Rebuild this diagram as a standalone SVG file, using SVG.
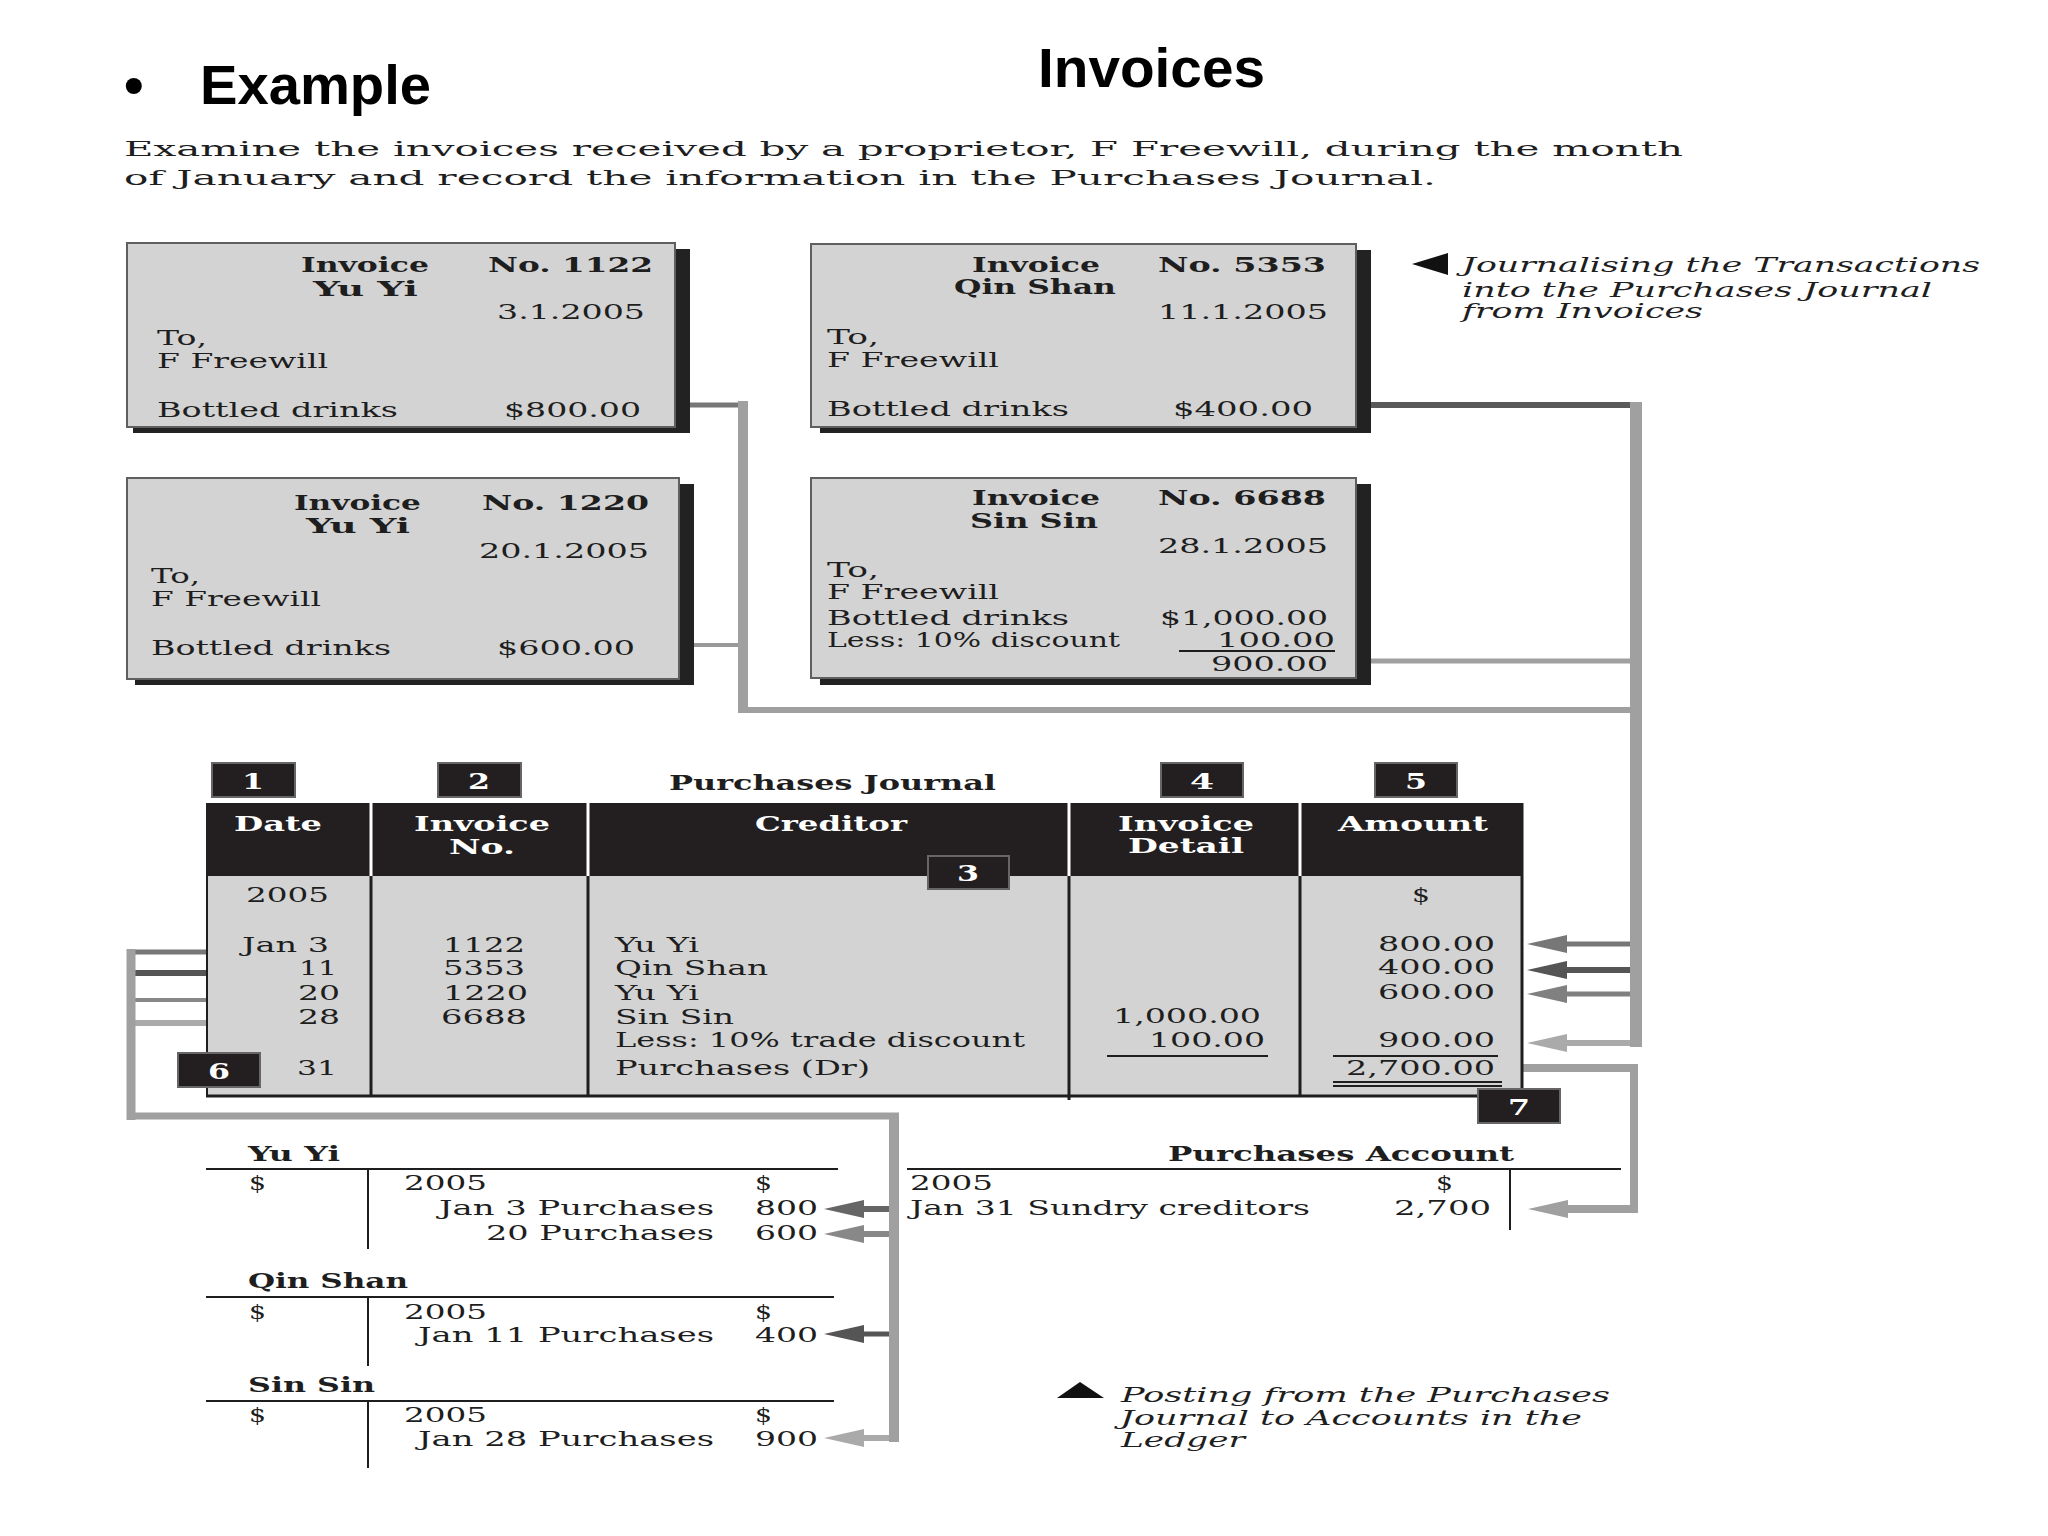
<svg xmlns="http://www.w3.org/2000/svg" xmlns:xlink="http://www.w3.org/1999/xlink" width="2048" height="1536" viewBox="0 0 2048 1536">
<defs>
<style>
.s{font-family:"DejaVu Serif","Liberation Serif",serif;fill:#1e1e1e;font-size:21px}
.b{font-weight:bold}
.i{font-style:italic;font-family:"DejaVu Serif","Liberation Serif",serif}
.w{fill:#ffffff}
.t{font-family:"Liberation Sans",Arial,sans-serif;font-weight:bold;fill:#000}
.box{fill:#d3d3d3;stroke:#5f5f5f;stroke-width:2}
.sh{fill:#222222}
.nb{fill:#231f20;stroke:#666;stroke-width:2}
.nt{font-size:22px}
.ln{stroke:#1e1e1e;stroke-width:2;fill:none}
.c{fill:none;stroke-linecap:butt}
</style>
<path id="ahL" d="M0,0 L40,-9 L40,9 Z"/>
</defs>
<rect x="0" y="0" width="2048" height="1536" fill="#ffffff"/>

<g id="title">
<text class="t" x="124" y="104" font-size="56">•</text>
<text class="t" x="200" y="104" font-size="55" textLength="231" lengthAdjust="spacingAndGlyphs">Example</text>
<text class="t" x="1038" y="87" font-size="55" textLength="227" lengthAdjust="spacingAndGlyphs">Invoices</text>
<text class="s" x="124" y="156" font-size="22" textLength="1559" lengthAdjust="spacingAndGlyphs">Examine the invoices received by a proprietor, F Freewill, during the month</text>
<text class="s" x="124" y="185" font-size="22" textLength="1312" lengthAdjust="spacingAndGlyphs">of January and record the information in the Purchases Journal.</text>
</g>

<g id="connectors">
<line class="c" x1="690" y1="405" x2="743" y2="405" stroke="#777" stroke-width="5"/>
<line class="c" x1="693" y1="645" x2="743" y2="645" stroke="#999" stroke-width="4"/>
<line class="c" x1="743" y1="401" x2="743" y2="713" stroke="#a0a0a0" stroke-width="10"/>
<line class="c" x1="738" y1="710" x2="1636" y2="710" stroke="#a0a0a0" stroke-width="6"/>
<line class="c" x1="1371" y1="405" x2="1636" y2="405" stroke="#5a5a5a" stroke-width="6"/>
<line class="c" x1="1371" y1="661" x2="1636" y2="661" stroke="#a0a0a0" stroke-width="5"/>
<line class="c" x1="1636" y1="402" x2="1636" y2="1047" stroke="#a0a0a0" stroke-width="12"/>
<line class="c" x1="1630" y1="944" x2="1560" y2="944" stroke="#777" stroke-width="5"/>
<line class="c" x1="1630" y1="970" x2="1560" y2="970" stroke="#555" stroke-width="6"/>
<line class="c" x1="1630" y1="994" x2="1560" y2="994" stroke="#808080" stroke-width="5"/>
<line class="c" x1="1630" y1="1043" x2="1560" y2="1043" stroke="#aaa" stroke-width="6"/>
<use xlink:href="#ahL" transform="translate(1527,944)" fill="#777"/>
<use xlink:href="#ahL" transform="translate(1527,970)" fill="#555"/>
<use xlink:href="#ahL" transform="translate(1527,994)" fill="#808080"/>
<use xlink:href="#ahL" transform="translate(1527,1043)" fill="#aaa"/>
<polyline class="c" points="1522,1068 1634,1068 1634,1209 1560,1209" stroke="#a0a0a0" stroke-width="8"/>
<use xlink:href="#ahL" transform="translate(1528,1209)" fill="#a0a0a0"/>
<line class="c" x1="206" y1="952" x2="131" y2="952" stroke="#777" stroke-width="5"/>
<line class="c" x1="206" y1="973" x2="131" y2="973" stroke="#555" stroke-width="6"/>
<line class="c" x1="206" y1="1000" x2="131" y2="1000" stroke="#888" stroke-width="4"/>
<line class="c" x1="206" y1="1023" x2="131" y2="1023" stroke="#aaa" stroke-width="6"/>
<line class="c" x1="131" y1="949" x2="131" y2="1120" stroke="#a0a0a0" stroke-width="9"/>
<line class="c" x1="127" y1="1116" x2="899" y2="1116" stroke="#a0a0a0" stroke-width="7"/>
<line class="c" x1="894" y1="1113" x2="894" y2="1442" stroke="#a0a0a0" stroke-width="10"/>
<line class="c" x1="889" y1="1209" x2="855" y2="1209" stroke="#666" stroke-width="6"/>
<line class="c" x1="889" y1="1234" x2="855" y2="1234" stroke="#888" stroke-width="6"/>
<line class="c" x1="889" y1="1334" x2="855" y2="1334" stroke="#555" stroke-width="5"/>
<line class="c" x1="889" y1="1438" x2="855" y2="1438" stroke="#aaa" stroke-width="6"/>
<use xlink:href="#ahL" transform="translate(824,1209)" fill="#666"/>
<use xlink:href="#ahL" transform="translate(824,1234)" fill="#888"/>
<use xlink:href="#ahL" transform="translate(824,1334)" fill="#555"/>
<use xlink:href="#ahL" transform="translate(824,1438)" fill="#aaa"/>
</g>

<g id="inv1122">
<rect class="sh" x="133" y="249" width="557" height="184"/>
<rect class="box" x="127" y="243" width="548" height="184"/>
<text class="s b" x="301" y="272" font-size="20" textLength="128" lengthAdjust="spacingAndGlyphs">Invoice</text>
<text class="s b" x="488" y="272" font-size="20" textLength="165" lengthAdjust="spacingAndGlyphs">No. 1122</text>
<text class="s b" x="313" y="296" font-size="20" textLength="105" lengthAdjust="spacingAndGlyphs">Yu Yi</text>
<text class="s" x="497" y="319" textLength="148" lengthAdjust="spacingAndGlyphs">3.1.2005</text>
<text class="s" x="157" y="345" textLength="50" lengthAdjust="spacingAndGlyphs">To,</text>
<text class="s" x="157" y="368" textLength="171" lengthAdjust="spacingAndGlyphs">F Freewill</text>
<text class="s" x="157" y="417" textLength="241" lengthAdjust="spacingAndGlyphs">Bottled drinks</text>
<text class="s" x="504" y="417" textLength="137" lengthAdjust="spacingAndGlyphs">$800.00</text>
</g>

<g id="inv1220">
<rect class="sh" x="135" y="484" width="559" height="201"/>
<rect class="box" x="127" y="478" width="552" height="201"/>
<text class="s b" x="294" y="510" font-size="20" textLength="127" lengthAdjust="spacingAndGlyphs">Invoice</text>
<text class="s b" x="482" y="510" font-size="20" textLength="167" lengthAdjust="spacingAndGlyphs">No. 1220</text>
<text class="s b" x="306" y="533" font-size="20" textLength="104" lengthAdjust="spacingAndGlyphs">Yu Yi</text>
<text class="s" x="479" y="558" textLength="170" lengthAdjust="spacingAndGlyphs">20.1.2005</text>
<text class="s" x="151" y="583" textLength="49" lengthAdjust="spacingAndGlyphs">To,</text>
<text class="s" x="151" y="606" textLength="170" lengthAdjust="spacingAndGlyphs">F Freewill</text>
<text class="s" x="151" y="655" textLength="240" lengthAdjust="spacingAndGlyphs">Bottled drinks</text>
<text class="s" x="497" y="655" textLength="138" lengthAdjust="spacingAndGlyphs">$600.00</text>
</g>

<g id="inv5353">
<rect class="sh" x="820" y="250" width="551" height="183"/>
<rect class="box" x="811" y="244" width="545" height="183"/>
<text class="s b" x="972" y="272" font-size="20" textLength="128" lengthAdjust="spacingAndGlyphs">Invoice</text>
<text class="s b" x="1158" y="272" font-size="20" textLength="168" lengthAdjust="spacingAndGlyphs">No. 5353</text>
<text class="s b" x="954" y="294" font-size="20" textLength="162" lengthAdjust="spacingAndGlyphs">Qin Shan</text>
<text class="s" x="1158" y="319" textLength="170" lengthAdjust="spacingAndGlyphs">11.1.2005</text>
<text class="s" x="827" y="344" textLength="52" lengthAdjust="spacingAndGlyphs">To,</text>
<text class="s" x="827" y="367" textLength="172" lengthAdjust="spacingAndGlyphs">F Freewill</text>
<text class="s" x="827" y="416" textLength="242" lengthAdjust="spacingAndGlyphs">Bottled drinks</text>
<text class="s" x="1173" y="416" textLength="140" lengthAdjust="spacingAndGlyphs">$400.00</text>
</g>

<g id="inv6688">
<rect class="sh" x="820" y="484" width="551" height="201"/>
<rect class="box" x="811" y="478" width="545" height="200"/>
<text class="s b" x="972" y="505" font-size="20" textLength="128" lengthAdjust="spacingAndGlyphs">Invoice</text>
<text class="s b" x="1158" y="505" font-size="20" textLength="168" lengthAdjust="spacingAndGlyphs">No. 6688</text>
<text class="s b" x="970" y="528" font-size="20" textLength="128" lengthAdjust="spacingAndGlyphs">Sin Sin</text>
<text class="s" x="1158" y="553" textLength="170" lengthAdjust="spacingAndGlyphs">28.1.2005</text>
<text class="s" x="827" y="577" textLength="52" lengthAdjust="spacingAndGlyphs">To,</text>
<text class="s" x="827" y="599" textLength="172" lengthAdjust="spacingAndGlyphs">F Freewill</text>
<text class="s" x="827" y="625" textLength="242" lengthAdjust="spacingAndGlyphs">Bottled drinks</text>
<text class="s" x="1160" y="625" textLength="168" lengthAdjust="spacingAndGlyphs">$1,000.00</text>
<text class="s" x="827" y="647" textLength="293" lengthAdjust="spacingAndGlyphs">Less: 10% discount</text>
<text class="s" x="1217" y="647" textLength="118" lengthAdjust="spacingAndGlyphs">100.00</text>
<line class="ln" x1="1179" y1="651" x2="1335" y2="651"/>
<text class="s" x="1211" y="671" textLength="117" lengthAdjust="spacingAndGlyphs">900.00</text>
</g>

<g id="note-journalising">
<polygon points="1412,264 1448,253 1448,275" fill="#111"/>
<text class="s i" x="1462" y="272" textLength="518" lengthAdjust="spacingAndGlyphs">Journalising the Transactions</text>
<text class="s i" x="1462" y="297" textLength="470" lengthAdjust="spacingAndGlyphs">into the Purchases Journal</text>
<text class="s i" x="1462" y="318" textLength="241" lengthAdjust="spacingAndGlyphs">from Invoices</text>
</g>

<g id="purchases-journal">
<text class="s b" x="669" y="790" font-size="19" textLength="327" lengthAdjust="spacingAndGlyphs">Purchases Journal</text>
<rect x="206" y="803" width="1316" height="73" fill="#231f20"/>
<rect x="206" y="876" width="1316" height="220" fill="#d3d3d3"/>
<g stroke="#ffffff" stroke-width="3">
<line x1="371" y1="803" x2="371" y2="876"/>
<line x1="588" y1="803" x2="588" y2="876"/>
<line x1="1069" y1="803" x2="1069" y2="876"/>
<line x1="1300" y1="803" x2="1300" y2="876"/>
</g>
<g stroke="#1e1e1e" stroke-width="3">
<line x1="371" y1="876" x2="371" y2="1096"/>
<line x1="588" y1="876" x2="588" y2="1096"/>
<line x1="1069" y1="876" x2="1069" y2="1100"/>
<line x1="1300" y1="876" x2="1300" y2="1096"/>
<line x1="1522" y1="803" x2="1522" y2="1097"/>
<line x1="206" y1="1096" x2="1523" y2="1096"/>
</g>
<line x1="207" y1="876" x2="207" y2="1096" stroke="#1e1e1e" stroke-width="2"/>
<text class="s b w" x="278" y="831" font-size="20" text-anchor="middle" textLength="88" lengthAdjust="spacingAndGlyphs">Date</text>
<text class="s b w" x="482" y="831" font-size="20" text-anchor="middle" textLength="136" lengthAdjust="spacingAndGlyphs">Invoice</text>
<text class="s b w" x="482" y="854" font-size="20" text-anchor="middle" textLength="66" lengthAdjust="spacingAndGlyphs">No.</text>
<text class="s b w" x="831" y="831" font-size="20" text-anchor="middle" textLength="152" lengthAdjust="spacingAndGlyphs">Creditor</text>
<text class="s b w" x="1186" y="831" font-size="20" text-anchor="middle" textLength="136" lengthAdjust="spacingAndGlyphs">Invoice</text>
<text class="s b w" x="1186" y="853" font-size="20" text-anchor="middle" textLength="116" lengthAdjust="spacingAndGlyphs">Detail</text>
<text class="s b w" x="1413" y="831" font-size="20" text-anchor="middle" textLength="150" lengthAdjust="spacingAndGlyphs">Amount</text>
<text class="s" x="246" y="902" textLength="83" lengthAdjust="spacingAndGlyphs">2005</text>
<text class="s" x="242" y="952" textLength="87" lengthAdjust="spacingAndGlyphs">Jan 3</text>
<text class="s" x="337" y="975" text-anchor="end" textLength="38" lengthAdjust="spacingAndGlyphs">11</text>
<text class="s" x="340" y="1000" text-anchor="end" textLength="42" lengthAdjust="spacingAndGlyphs">20</text>
<text class="s" x="340" y="1024" text-anchor="end" textLength="42" lengthAdjust="spacingAndGlyphs">28</text>
<text class="s" x="337" y="1075" text-anchor="end" textLength="40" lengthAdjust="spacingAndGlyphs">31</text>
<text class="s" x="443" y="952" textLength="82" lengthAdjust="spacingAndGlyphs">1122</text>
<text class="s" x="443" y="975" textLength="82" lengthAdjust="spacingAndGlyphs">5353</text>
<text class="s" x="443" y="1000" textLength="85" lengthAdjust="spacingAndGlyphs">1220</text>
<text class="s" x="441" y="1024" textLength="86" lengthAdjust="spacingAndGlyphs">6688</text>
<text class="s" x="615" y="952" textLength="84" lengthAdjust="spacingAndGlyphs">Yu Yi</text>
<text class="s" x="615" y="975" textLength="153" lengthAdjust="spacingAndGlyphs">Qin Shan</text>
<text class="s" x="615" y="1000" textLength="84" lengthAdjust="spacingAndGlyphs">Yu Yi</text>
<text class="s" x="615" y="1024" textLength="119" lengthAdjust="spacingAndGlyphs">Sin Sin</text>
<text class="s" x="615" y="1047" textLength="410" lengthAdjust="spacingAndGlyphs">Less: 10% trade discount</text>
<text class="s" x="615" y="1075" textLength="255" lengthAdjust="spacingAndGlyphs">Purchases (Dr)</text>
<text class="s" x="1113" y="1023" textLength="148" lengthAdjust="spacingAndGlyphs">1,000.00</text>
<text class="s" x="1149" y="1047" textLength="116" lengthAdjust="spacingAndGlyphs">100.00</text>
<line class="ln" x1="1107" y1="1056" x2="1268" y2="1056"/>
<text class="s" x="1412" y="902" textLength="18" lengthAdjust="spacingAndGlyphs">$</text>
<text class="s" x="1378" y="951" textLength="117" lengthAdjust="spacingAndGlyphs">800.00</text>
<text class="s" x="1378" y="974" textLength="117" lengthAdjust="spacingAndGlyphs">400.00</text>
<text class="s" x="1378" y="999" textLength="117" lengthAdjust="spacingAndGlyphs">600.00</text>
<text class="s" x="1378" y="1047" textLength="117" lengthAdjust="spacingAndGlyphs">900.00</text>
<line class="ln" x1="1333" y1="1056" x2="1498" y2="1056"/>
<text class="s" x="1346" y="1075" textLength="149" lengthAdjust="spacingAndGlyphs">2,700.00</text>
<line class="ln" x1="1333" y1="1082" x2="1502" y2="1082"/>
<line class="ln" x1="1333" y1="1086" x2="1502" y2="1086"/>
</g>

<g id="markers">
<g id="m1"><rect class="nb" x="212" y="763" width="83" height="34"/><text class="s b w nt" x="253" y="789" text-anchor="middle" textLength="22" lengthAdjust="spacingAndGlyphs">1</text></g>
<g id="m2"><rect class="nb" x="438" y="763" width="83" height="34"/><text class="s b w nt" x="479" y="789" text-anchor="middle" textLength="22" lengthAdjust="spacingAndGlyphs">2</text></g>
<g id="m3"><rect class="nb" x="928" y="856" width="81" height="33"/><text class="s b w nt" x="968" y="881" text-anchor="middle" textLength="22" lengthAdjust="spacingAndGlyphs">3</text></g>
<g id="m4"><rect class="nb" x="1161" y="763" width="82" height="34"/><text class="s b w nt" x="1202" y="789" text-anchor="middle" textLength="24" lengthAdjust="spacingAndGlyphs">4</text></g>
<g id="m5"><rect class="nb" x="1375" y="763" width="82" height="34"/><text class="s b w nt" x="1416" y="789" text-anchor="middle" textLength="22" lengthAdjust="spacingAndGlyphs">5</text></g>
<g id="m6"><rect class="nb" x="178" y="1053" width="82" height="34"/><text class="s b w nt" x="219" y="1079" text-anchor="middle" textLength="22" lengthAdjust="spacingAndGlyphs">6</text></g>
<g id="m7"><rect class="nb" x="1478" y="1089" width="82" height="34"/><text class="s b w nt" x="1519" y="1115" text-anchor="middle" textLength="22" lengthAdjust="spacingAndGlyphs">7</text></g>
</g>

<g id="ledger-yuyi">
<text class="s b" x="248" y="1161" font-size="19" textLength="92" lengthAdjust="spacingAndGlyphs">Yu Yi</text>
<line class="ln" x1="206" y1="1169" x2="838" y2="1169"/>
<line class="ln" x1="368" y1="1169" x2="368" y2="1249"/>
<text class="s" x="249" y="1190" font-size="20" textLength="17" lengthAdjust="spacingAndGlyphs">$</text>
<text class="s" x="404" y="1190" font-size="20" textLength="83" lengthAdjust="spacingAndGlyphs">2005</text>
<text class="s" x="755" y="1190" font-size="20" textLength="17" lengthAdjust="spacingAndGlyphs">$</text>
<text class="s" x="439" y="1215" font-size="20" textLength="275" lengthAdjust="spacingAndGlyphs">Jan 3 Purchases</text>
<text class="s" x="755" y="1215" font-size="20" textLength="63" lengthAdjust="spacingAndGlyphs">800</text>
<text class="s" x="486" y="1240" font-size="20" textLength="228" lengthAdjust="spacingAndGlyphs">20 Purchases</text>
<text class="s" x="755" y="1240" font-size="20" textLength="63" lengthAdjust="spacingAndGlyphs">600</text>
</g>

<g id="ledger-qinshan">
<text class="s b" x="248" y="1288" font-size="19" textLength="160" lengthAdjust="spacingAndGlyphs">Qin Shan</text>
<line class="ln" x1="206" y1="1297" x2="834" y2="1297"/>
<line class="ln" x1="368" y1="1297" x2="368" y2="1366"/>
<text class="s" x="249" y="1319" font-size="20" textLength="17" lengthAdjust="spacingAndGlyphs">$</text>
<text class="s" x="404" y="1319" font-size="20" textLength="83" lengthAdjust="spacingAndGlyphs">2005</text>
<text class="s" x="755" y="1319" font-size="20" textLength="17" lengthAdjust="spacingAndGlyphs">$</text>
<text class="s" x="418" y="1342" font-size="20" textLength="296" lengthAdjust="spacingAndGlyphs">Jan 11 Purchases</text>
<text class="s" x="755" y="1342" font-size="20" textLength="63" lengthAdjust="spacingAndGlyphs">400</text>
</g>

<g id="ledger-sinsin">
<text class="s b" x="248" y="1392" font-size="19" textLength="127" lengthAdjust="spacingAndGlyphs">Sin Sin</text>
<line class="ln" x1="206" y1="1401" x2="834" y2="1401"/>
<line class="ln" x1="368" y1="1401" x2="368" y2="1468"/>
<text class="s" x="249" y="1422" font-size="20" textLength="17" lengthAdjust="spacingAndGlyphs">$</text>
<text class="s" x="404" y="1422" font-size="20" textLength="83" lengthAdjust="spacingAndGlyphs">2005</text>
<text class="s" x="755" y="1422" font-size="20" textLength="17" lengthAdjust="spacingAndGlyphs">$</text>
<text class="s" x="418" y="1446" font-size="20" textLength="296" lengthAdjust="spacingAndGlyphs">Jan 28 Purchases</text>
<text class="s" x="755" y="1446" font-size="20" textLength="63" lengthAdjust="spacingAndGlyphs">900</text>
</g>

<g id="ledger-purchases">
<text class="s b" x="1168" y="1161" font-size="19" textLength="346" lengthAdjust="spacingAndGlyphs">Purchases Account</text>
<line class="ln" x1="907" y1="1169" x2="1621" y2="1169"/>
<line class="ln" x1="1510" y1="1169" x2="1510" y2="1230"/>
<text class="s" x="910" y="1190" font-size="20" textLength="83" lengthAdjust="spacingAndGlyphs">2005</text>
<text class="s" x="1436" y="1190" font-size="20" textLength="17" lengthAdjust="spacingAndGlyphs">$</text>
<text class="s" x="910" y="1215" font-size="20" textLength="400" lengthAdjust="spacingAndGlyphs">Jan 31 Sundry creditors</text>
<text class="s" x="1394" y="1215" font-size="20" textLength="97" lengthAdjust="spacingAndGlyphs">2,700</text>
</g>

<g id="note-posting">
<polygon points="1057,1398 1104,1398 1080,1382" fill="#111"/>
<text class="s i" x="1121" y="1402" textLength="489" lengthAdjust="spacingAndGlyphs">Posting from the Purchases</text>
<text class="s i" x="1120" y="1425" textLength="462" lengthAdjust="spacingAndGlyphs">Journal to Accounts in the</text>
<text class="s i" x="1121" y="1447" textLength="124" lengthAdjust="spacingAndGlyphs">Ledger</text>
</g>
</svg>
